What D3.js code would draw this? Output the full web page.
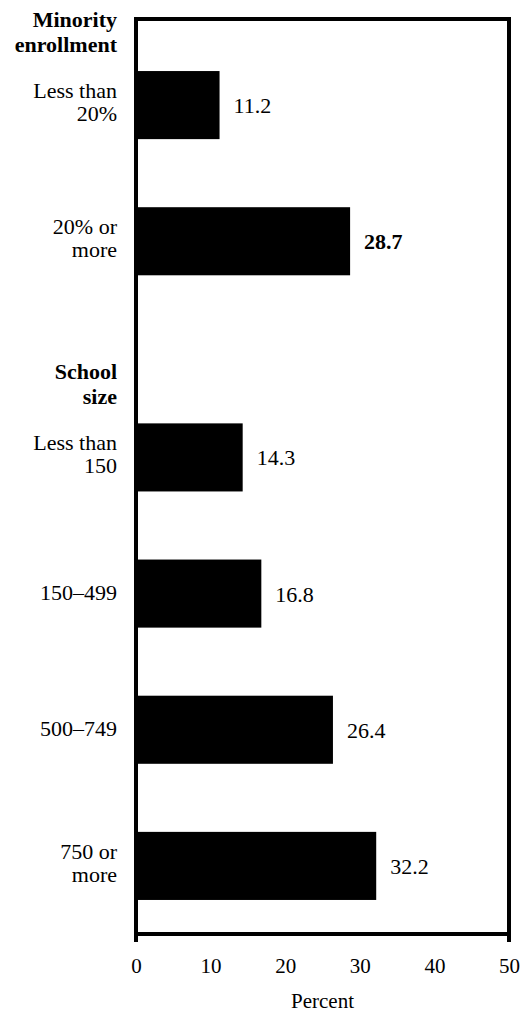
<!DOCTYPE html>
<html lang="en">
<head>
    <title>Percent by minority enrollment and school size</title>
    <meta charset="utf-8">
    <script src="https://d3js.org/d3.v7.min.js"></script>
<style>
body {
  margin: 0;
  background: white;
}
</style>
</head>
<body>
<div id="chart"></div>
<script>
// data
var groupNames = ["Minority enrollment", "School size"];
var groupLines = [["Minority", "enrollment"], ["School", "size"]];
var categories = ["Less than 20%", "20% or more", "Less than 150", "150–499", "500–749", "750 or more"];
var categoryLines = [["Less than", "20%"], ["20% or", "more"], ["Less than", "150"], ["150–499"], ["500–749"], ["750 or", "more"]];
var categoryGroup = [0, 0, 1, 1, 1, 1];
var values = [11.2, 28.7, 14.3, 16.8, 26.4, 32.2];
var xTicks = [0, 10, 20, 30, 40, 50];
var xTitle = "Percent";

// layout
var W = 521, H = 1013;
var plotLeft = 136, plotRight = 509, plotTop = 19, plotBottom = 934;
var groupGap = 80;   // extra room for the second group heading
var labelX = 117;
var serif = "Liberation Serif";

var svg = d3.select("#chart")
  .append("svg")
  .attr("width", W)
  .attr("height", H);

var x = d3.scaleLinear()
  .domain([0, 50])
  .range([plotLeft, plotRight]);

var y = d3.scaleBand()
  .domain(categories)
  .range([37, plotBottom - groupGap])
  .paddingInner(0.5)
  .paddingOuter(0.25);

function barTop(i) {
  return y(categories[i]) + categoryGroup[i] * groupGap;
}
function barMid(i) {
  return barTop(i) + y.bandwidth() / 2;
}

// bars
svg.selectAll("rect.bar")
  .data(values)
  .enter()
  .append("rect")
    .attr("class", "bar")
    .attr("x", x(0))
    .attr("y", function(d, i) { return barTop(i); })
    .attr("width", function(d) { return x(d) - x(0); })
    .attr("height", y.bandwidth())
    .attr("fill", "#000");

// value labels
svg.selectAll("text.value")
  .data(values)
  .enter()
  .append("text")
    .attr("class", "value")
    .attr("x", function(d) { return x(d) + 14; })
    .attr("y", function(d, i) { return barMid(i) + 8; })
    .attr("font-family", serif)
    .attr("font-size", 22)
    .attr("font-weight", function(d, i) { return i == 1 ? "bold" : "normal"; })
    .attr("fill", "#000")
    .text(function(d) { return d3.format(".1f")(d); });

// category labels (one or two lines, right aligned)
categories.forEach(function(c, i) {
  var lines = categoryLines[i];
  var t = svg.append("text")
    .attr("text-anchor", "end")
    .attr("font-family", serif)
    .attr("font-size", 22)
    .attr("fill", "#000");
  lines.forEach(function(line, j) {
    var base = lines.length == 1 ? barMid(i) + 6 : barMid(i) - 7 + j * 23;
    t.append("tspan")
      .attr("x", labelX)
      .attr("y", base)
      .text(line);
  });
});

// group headings sit above the first bar of each group
groupNames.forEach(function(g, gi) {
  var first = categoryGroup.indexOf(gi);
  var t = svg.append("text")
    .attr("text-anchor", "end")
    .attr("font-family", serif)
    .attr("font-size", 22)
    .attr("font-weight", "bold")
    .attr("fill", "#000");
  groupLines[gi].forEach(function(line, j) {
    t.append("tspan")
      .attr("x", labelX)
      .attr("y", barTop(first) - 44 + j * 25)
      .text(line);
  });
});

// frame
svg.append("rect")
  .attr("x", plotLeft)
  .attr("y", plotTop)
  .attr("width", plotRight - plotLeft)
  .attr("height", plotBottom - plotTop)
  .attr("fill", "none")
  .attr("stroke", "#000")
  .attr("stroke-width", 4);

// the two sides run a little below the axis
svg.selectAll("line.end")
  .data([0, 50])
  .enter()
  .append("line")
    .attr("x1", function(d) { return x(d); })
    .attr("x2", function(d) { return x(d); })
    .attr("y1", plotBottom)
    .attr("y2", plotBottom + 8)
    .attr("stroke", "#000")
    .attr("stroke-width", 4);

// x axis labels
var xAxis = svg.append("g")
  .attr("transform", "translate(0," + plotBottom + ")")
  .call(d3.axisBottom(x).tickValues(xTicks).tickSize(0).tickPadding(24));
xAxis.attr("font-family", serif).attr("font-size", 21);
xAxis.select(".domain").remove();
xAxis.selectAll("text")
  .attr("fill", "#000");

svg.append("text")
  .attr("x", (plotLeft + plotRight) / 2)
  .attr("y", 1008)
  .attr("text-anchor", "middle")
  .attr("font-family", serif)
  .attr("font-size", 21)
  .attr("fill", "#000")
  .text(xTitle);
</script>
</body>
</html>
